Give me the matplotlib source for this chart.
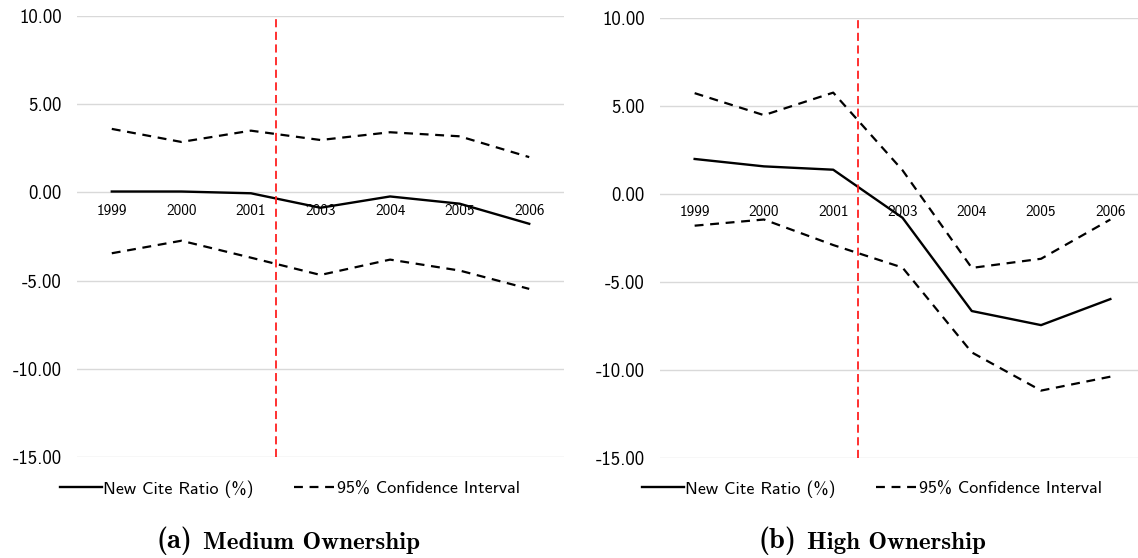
import matplotlib
matplotlib.use('Agg')
import matplotlib.pyplot as plt
from matplotlib.lines import Line2D
import numpy as np

years = ['1999', '2000', '2001', '2003', '2004', '2005', '2006']

# Medium ownership: estimate and 95% band
med_est = [0.05, 0.05, -0.05, -0.87, -0.23, -0.64, -1.78]
med_upper = [3.60, 2.86, 3.50, 2.97, 3.41, 3.18, 2.00]
med_lower = [-3.45, -2.74, -3.70, -4.68, -3.81, -4.43, -5.47]

# High ownership: estimate and 95% band
high_est = [1.99, 1.57, 1.38, -1.35, -6.65, -7.45, -5.97]
high_upper = [5.73, 4.48, 5.76, 1.35, -4.20, -3.68, -1.45]
high_lower = [-1.80, -1.45, -2.90, -4.18, -9.00, -11.17, -10.38]

# event marker between 2001 and 2003 (in category units)
event_pos = 2.36

plt.rcParams['axes.unicode_minus'] = False
SANS = ['cmss10', 'DejaVu Sans']
SERIF_BOLD = ['cmb10', 'DejaVu Serif']

W, H = 1138, 558
fig = plt.figure(figsize=(W / 100, H / 100), dpi=100)
ax1 = fig.add_axes([77 / W, 1 - 457 / H, 487 / W, 441 / H])
ax2 = fig.add_axes([660 / W, 1 - 458 / H, 485 / W, 440 / H])


def draw_panel(ax, est, upper, lower):
    x = np.arange(len(years))
    ax.plot(x, est, color='black', lw=1.7)
    ax.plot(x, upper, color='black', lw=1.6, dashes=(4, 3))
    ax.plot(x, lower, color='black', lw=1.6, dashes=(4, 3))
    ax.axvline(event_pos, color='#ff2020', lw=1.3, dashes=(4.5, 2.5))

    ax.set_xlim(-0.5, len(years) - 0.5)
    ax.set_ylim(-15, 10)
    ax.set_yticks(np.arange(-15, 11, 5))
    ax.yaxis.set_major_formatter('{x:.2f}')
    ax.set_xticks(x, years)

    ax.grid(axis='y', color='#d9d9d9', lw=1.0)
    ax.set_axisbelow(True)
    for s in ax.spines.values():
        s.set_visible(False)
    # year labels hang just under the zero line
    ax.spines['bottom'].set_position(('data', 0))

    ax.tick_params(axis='x', length=0, pad=8, labelsize=11)
    ax.tick_params(axis='y', length=0, pad=11, labelsize=13.5)
    for lab in ax.get_xticklabels() + ax.get_yticklabels():
        lab.set_family(SANS)


draw_panel(ax1, med_est, med_upper, med_lower)
draw_panel(ax2, high_est, high_upper, high_lower)

handles = [Line2D([], [], color='black', lw=1.7),
           Line2D([], [], color='black', lw=1.6, dashes=(4, 3))]
labels = ['New Cite Ratio (%)', '95% Confidence Interval']
for cx in (290, 872):
    fig.legend(handles, labels, loc='center', bbox_to_anchor=(cx / W, 1 - 489 / H),
               ncol=2, frameon=False, handlelength=2.3, handletextpad=0.1,
               columnspacing=2.2, prop={'family': SANS, 'size': 13})

renderer = fig.canvas.get_renderer()


def caption(cx, tag, name):
    t1 = fig.text(0, 1 - 541 / H, tag, family=SERIF_BOLD, size=20.5, va='center')
    t2 = fig.text(0, 1 - 543 / H, name, family=SERIF_BOLD, size=18, va='center')
    w1 = t1.get_window_extent(renderer).width
    w2 = t2.get_window_extent(renderer).width
    gap = 11
    x0 = cx - (w1 + gap + w2) / 2
    t1.set_x(x0 / W)
    t2.set_x((x0 + w1 + gap) / W)


caption(288, '(a)', 'Medium Ownership')
caption(872, '(b)', 'High Ownership')

fig.savefig('out.png', dpi=100)
